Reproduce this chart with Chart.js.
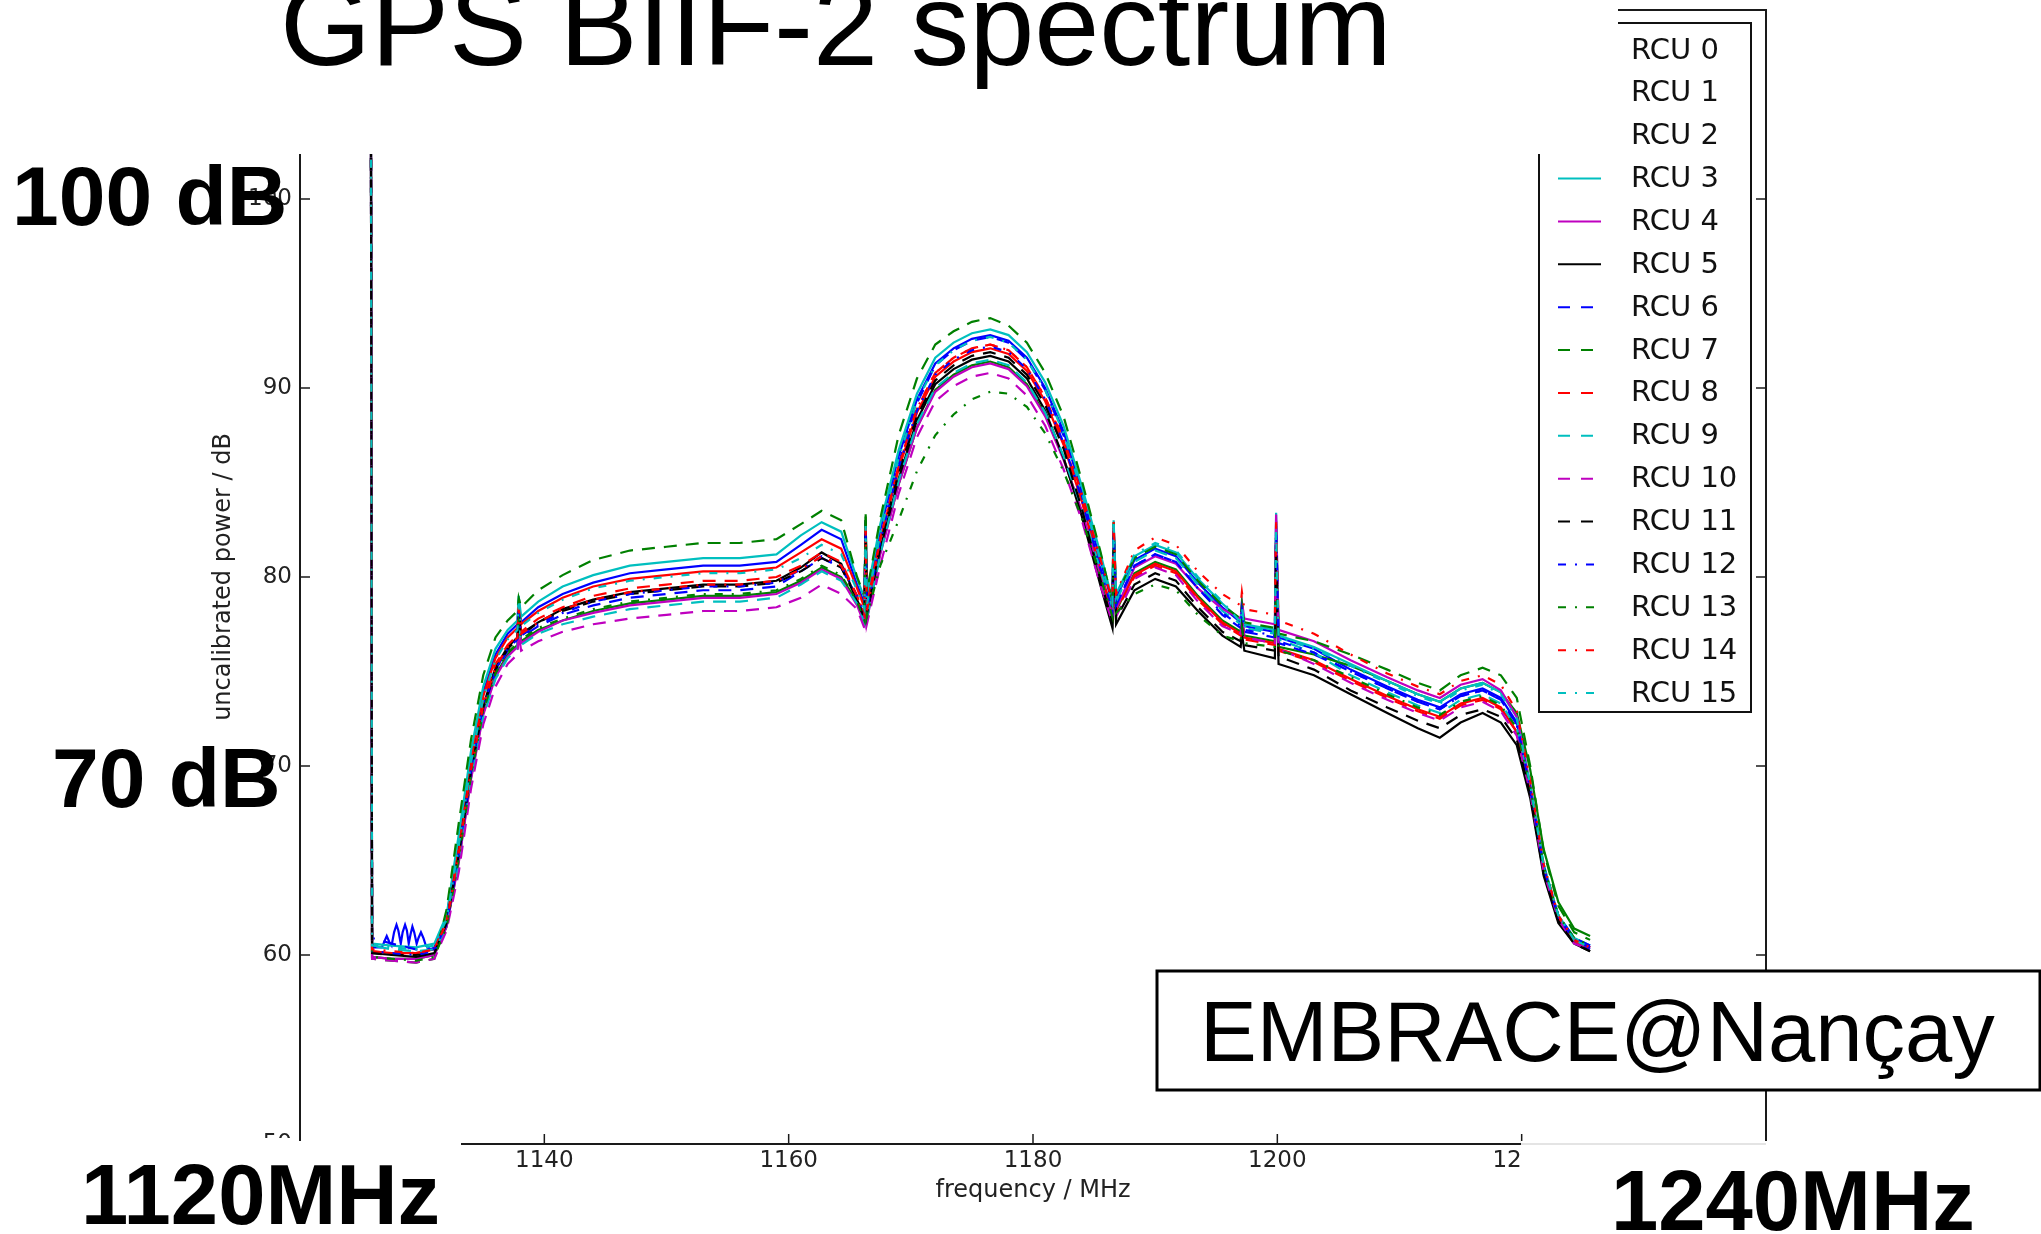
<!DOCTYPE html>
<html>
<head>
<meta charset="utf-8">
<script src="https://cdn.jsdelivr.net/npm/chart.js@4.4.1/dist/chart.umd.min.js"></script>
<style>
  html, body { margin: 0; padding: 0; background: #fff; }
  #wrap { width: 2041px; height: 1234px; position: relative; }
</style>
</head>
<body>
<div id="wrap"><canvas id="spectrumChart" width="2041" height="1234"></canvas></div>
<script>
// frequency / MHz, shared by all RCU traces
const freq = [1125.8, 1125.9, 1127.5, 1129.5, 1131.0, 1132.0, 1133.0, 1134.0, 1135.0, 1136.0,
  1137.0, 1137.8, 1137.9, 1138.1, 1139.5, 1141.5, 1144.0, 1147.0, 1150.0, 1153.0,
  1156.0, 1159.0, 1161.0, 1162.7, 1164.3, 1165.6, 1166.2, 1166.3, 1166.4, 1167.5,
  1169.0, 1170.5, 1172.0, 1173.5, 1175.0, 1176.5, 1178.0, 1179.5, 1181.0, 1182.5,
  1184.0, 1185.5, 1186.5, 1186.6, 1186.8, 1188.3, 1190.0, 1191.7, 1193.5, 1195.5,
  1197.0, 1197.1, 1197.3, 1199.8, 1199.9, 1200.1, 1203.0, 1206.0, 1209.0, 1211.5,
  1213.3, 1215.0, 1216.8, 1218.3, 1219.6, 1220.7, 1221.8, 1223.0, 1224.3, 1225.6];

// uncalibrated power / dB
const rcu0 = [108, 60.4, 60.4, 60.4, 60.4, 62.0, 66.1, 70.5, 73.9, 75.9,
  77.0, 77.5, 78.8, 77.6, 78.4, 79.1, 79.7, 80.2, 80.4, 80.6,
  80.6, 80.8, 81.7, 82.5, 82.0, 79.6, 78.6, 82.9, 78.8, 82.5,
  86.4, 89.4, 91.3, 92.1, 92.6, 92.8, 92.5, 91.6, 90.0, 87.7,
  84.5, 80.9, 78.6, 82.8, 78.9, 80.9, 81.5, 81.1, 79.7, 78.4,
  77.6, 78.3, 77.4, 77.1, 82.6, 76.8, 76.2, 75.1, 74.2, 73.5,
  73.1, 73.8, 74.1, 73.6, 72.3, 68.8, 64.5, 61.9, 60.7, 60.3];
const rcu1 = [108, 59.9, 59.8, 59.8, 60.0, 61.5, 65.0, 69.4, 72.8, 74.8,
  75.9, 76.4, 77.8, 76.6, 77.2, 77.7, 78.2, 78.6, 78.8, 79.0,
  79.0, 79.2, 79.8, 80.5, 80.0, 78.7, 77.7, 83.2, 77.9, 81.3,
  84.9, 87.9, 89.9, 90.7, 91.2, 91.4, 91.1, 90.2, 88.6, 86.3,
  83.4, 80.0, 77.9, 82.3, 78.2, 80.2, 80.8, 80.4, 79.0, 77.7,
  77.1, 77.9, 76.9, 76.6, 82.0, 76.3, 75.9, 75.3, 74.5, 73.8,
  73.4, 74.1, 74.4, 73.9, 72.8, 69.8, 65.6, 62.8, 61.4, 61.0];
const rcu2 = [108, 60.2, 60.1, 60.1, 60.3, 61.9, 65.9, 70.3, 73.7, 75.7,
  76.8, 77.3, 78.6, 77.5, 78.2, 78.9, 79.5, 79.9, 80.1, 80.3,
  80.3, 80.5, 81.3, 82.0, 81.5, 79.4, 78.4, 82.7, 78.6, 82.0,
  85.7, 88.7, 90.6, 91.4, 91.9, 92.1, 91.8, 90.9, 89.3, 87.0,
  84.0, 80.4, 78.1, 82.4, 78.3, 80.1, 80.7, 80.3, 78.9, 77.6,
  77.0, 77.8, 76.8, 76.5, 82.1, 76.2, 75.6, 74.6, 73.7, 73.0,
  72.6, 73.3, 73.6, 73.1, 71.8, 68.7, 64.5, 61.9, 60.7, 60.4];
const rcu3 = [108, 60.6, 60.5, 60.4, 60.6, 62.1, 66.4, 70.8, 74.2, 76.2,
  77.2, 77.7, 79.0, 77.9, 78.7, 79.5, 80.1, 80.6, 80.8, 81.0,
  81.0, 81.2, 82.2, 82.9, 82.4, 79.9, 78.9, 83.0, 79.1, 82.8,
  86.7, 89.7, 91.6, 92.4, 92.9, 93.1, 92.8, 91.9, 90.3, 88.0,
  84.8, 81.3, 78.8, 83.0, 79.1, 81.1, 81.7, 81.3, 79.9, 78.6,
  77.7, 78.5, 77.5, 77.2, 83.4, 76.9, 76.3, 75.4, 74.5, 73.8,
  73.4, 74.1, 74.4, 73.9, 72.6, 69.0, 64.8, 62.1, 60.9, 60.5];
const rcu4 = [108, 59.9, 59.8, 59.8, 60.0, 61.5, 64.9, 69.3, 72.7, 74.7,
  75.8, 76.3, 77.5, 76.5, 77.1, 77.7, 78.1, 78.5, 78.7, 78.9,
  78.9, 79.1, 79.7, 80.4, 79.9, 78.5, 77.5, 82.3, 77.7, 81.2,
  84.9, 87.9, 89.8, 90.6, 91.1, 91.3, 91.0, 90.1, 88.5, 86.2,
  83.5, 80.2, 78.0, 82.4, 78.3, 80.5, 81.1, 80.7, 79.4, 78.3,
  77.8, 78.7, 77.8, 77.5, 83.3, 77.2, 76.6, 75.6, 74.7, 74.0,
  73.6, 74.3, 74.6, 74.0, 72.6, 69.0, 64.6, 62.0, 60.8, 60.4];
const rcu5 = [108, 60.1, 60.0, 59.9, 60.1, 61.7, 65.4, 69.8, 73.2, 75.2,
  76.3, 76.8, 78.2, 77.0, 77.6, 78.3, 78.8, 79.2, 79.4, 79.6,
  79.6, 79.8, 80.5, 81.3, 80.7, 78.8, 77.8, 83.0, 78.0, 81.5,
  85.2, 88.3, 90.2, 91.0, 91.5, 91.7, 91.4, 90.5, 88.8, 86.3,
  83.2, 79.6, 77.3, 81.8, 77.5, 79.3, 79.9, 79.5, 78.2, 76.9,
  76.3, 77.0, 76.1, 75.7, 81.0, 75.4, 74.8, 73.8, 72.8, 72.0,
  71.5, 72.3, 72.8, 72.3, 71.1, 68.3, 64.2, 61.7, 60.6, 60.2];
const rcu6 = [108, 60.9, 60.6, 60.3, 60.3, 61.6, 65.2, 69.6, 73.0, 75.0,
  76.1, 76.6, 78.2, 76.8, 77.4, 78.0, 78.5, 78.9, 79.1, 79.3,
  79.3, 79.5, 80.3, 81.0, 80.5, 78.9, 77.9, 82.4, 78.1, 82.0,
  86.0, 89.2, 91.2, 92.0, 92.5, 92.7, 92.4, 91.5, 89.9, 87.5,
  84.3, 80.6, 78.2, 82.6, 78.5, 80.6, 81.2, 80.8, 79.4, 78.0,
  77.3, 78.1, 77.1, 76.8, 82.4, 76.5, 75.9, 75.0, 74.1, 73.4,
  73.0, 73.7, 74.0, 73.5, 72.2, 68.9, 64.7, 62.1, 60.9, 60.5];
const rcu7 = [108, 59.8, 59.7, 59.6, 59.8, 62.4, 67.0, 71.4, 74.8, 76.8,
  77.7, 78.2, 78.9, 78.4, 79.3, 80.1, 80.9, 81.4, 81.6, 81.8,
  81.8, 82.0, 82.8, 83.5, 83.0, 80.0, 79.0, 83.4, 79.2, 83.1,
  87.5, 90.5, 92.3, 93.0, 93.5, 93.7, 93.3, 92.4, 90.8, 88.5,
  85.1, 81.4, 78.7, 82.9, 79.0, 81.0, 81.6, 81.2, 79.8, 78.5,
  77.8, 78.6, 77.6, 77.3, 82.7, 77.0, 76.6, 75.9, 75.1, 74.4,
  74.0, 74.8, 75.2, 74.8, 73.6, 70.0, 65.5, 62.6, 61.2, 60.8];
const rcu8 = [108, 60.2, 60.1, 60.1, 60.3, 61.8, 65.6, 70.0, 73.4, 75.4,
  76.4, 76.9, 78.4, 77.1, 77.8, 78.4, 79.0, 79.4, 79.6, 79.8,
  79.8, 80.0, 80.6, 81.3, 80.8, 79.0, 78.0, 82.6, 78.2, 82.0,
  85.8, 88.9, 90.8, 91.6, 92.1, 92.3, 92.0, 91.1, 89.5, 87.2,
  84.1, 80.4, 78.0, 82.3, 78.2, 80.0, 80.6, 80.2, 78.8, 77.5,
  76.9, 77.7, 76.7, 76.4, 82.0, 76.1, 75.5, 74.5, 73.6, 72.9,
  72.5, 73.2, 73.5, 73.0, 71.8, 68.7, 64.6, 62.0, 60.8, 60.4];
const rcu9 = [108, 60.5, 60.3, 60.2, 60.3, 61.4, 64.8, 69.2, 72.6, 74.6,
  75.7, 76.2, 77.4, 76.4, 77.0, 77.5, 77.9, 78.3, 78.5, 78.7,
  78.7, 78.9, 79.6, 80.3, 79.8, 78.6, 77.6, 82.0, 77.8, 81.2,
  85.1, 88.1, 90.0, 90.8, 91.3, 91.5, 91.2, 90.3, 88.7, 86.4,
  83.6, 80.4, 78.4, 82.8, 78.7, 80.8, 81.4, 81.0, 79.6, 78.2,
  77.5, 78.3, 77.3, 77.0, 82.8, 76.7, 76.0, 74.8, 73.9, 73.2,
  72.8, 73.5, 73.8, 73.3, 72.0, 68.8, 64.6, 62.0, 60.8, 60.4];
const rcu10 = [108, 59.8, 59.7, 59.6, 59.8, 61.3, 64.4, 68.8, 72.2, 74.2,
  75.4, 75.9, 77.0, 76.1, 76.6, 77.1, 77.5, 77.8, 78.0, 78.2,
  78.2, 78.4, 78.9, 79.6, 79.1, 78.3, 77.3, 81.8, 77.5, 80.6,
  84.4, 87.4, 89.3, 90.1, 90.6, 90.8, 90.5, 89.6, 88.0, 85.7,
  83.0, 79.6, 77.6, 82.0, 77.9, 79.9, 80.5, 80.1, 78.7, 77.4,
  77.0, 77.8, 76.8, 76.5, 83.2, 76.2, 75.4, 74.4, 73.5, 72.8,
  72.4, 73.1, 73.4, 72.9, 71.6, 68.6, 64.4, 61.9, 60.6, 60.3];
const rcu11 = [108, 60.1, 60.0, 60.0, 60.1, 61.7, 65.3, 69.7, 73.1, 75.1,
  76.2, 76.7, 77.9, 76.9, 77.6, 78.2, 78.7, 79.1, 79.3, 79.5,
  79.5, 79.7, 80.3, 81.0, 80.5, 78.8, 77.8, 82.3, 78.0, 81.7,
  85.5, 88.5, 90.4, 91.2, 91.7, 91.9, 91.6, 90.7, 89.1, 86.8,
  83.6, 79.9, 77.6, 81.9, 77.8, 79.6, 80.2, 79.8, 78.4, 77.1,
  76.6, 77.4, 76.4, 76.1, 81.3, 75.8, 75.1, 74.0, 73.1, 72.4,
  72.0, 72.7, 73.0, 72.6, 71.4, 68.5, 64.3, 61.8, 60.6, 60.2];
const rcu12 = [108, 60.2, 60.1, 60.0, 60.2, 61.7, 65.4, 69.8, 73.2, 75.1,
  76.2, 76.7, 78.1, 76.9, 77.5, 78.1, 78.7, 79.1, 79.3, 79.5,
  79.5, 79.7, 80.4, 81.1, 80.6, 79.0, 78.0, 82.4, 78.2, 81.9,
  85.8, 88.8, 90.7, 91.5, 92.0, 92.2, 91.9, 91.0, 89.4, 87.1,
  84.1, 80.5, 78.2, 82.5, 78.5, 80.6, 81.2, 80.8, 79.4, 78.1,
  77.4, 78.2, 77.2, 76.9, 82.5, 76.6, 76.0, 75.0, 74.1, 73.4,
  73.0, 73.7, 74.0, 73.5, 72.2, 68.8, 64.6, 62.0, 60.8, 60.4];
const rcu13 = [108, 59.9, 59.8, 59.7, 59.9, 61.5, 65.1, 69.5, 72.9, 74.9,
  76.0, 76.5, 77.6, 76.7, 77.3, 77.8, 78.3, 78.7, 78.9, 79.1,
  79.1, 79.3, 79.9, 80.6, 80.1, 78.7, 77.7, 81.9, 77.9, 80.6,
  83.0, 85.6, 87.5, 88.6, 89.4, 89.8, 89.7, 89.0, 87.6, 85.6,
  83.1, 80.1, 77.9, 81.5, 78.1, 79.1, 79.6, 79.3, 78.0, 76.9,
  76.6, 77.3, 76.5, 76.3, 81.5, 76.1, 75.6, 74.7, 73.8, 73.1,
  72.7, 73.4, 73.7, 73.2, 72.0, 68.9, 64.7, 62.1, 60.9, 60.5];
const rcu14 = [108, 60.3, 60.2, 60.1, 60.3, 61.7, 65.4, 69.8, 73.2, 75.2,
  76.3, 76.8, 78.3, 77.0, 77.6, 78.3, 78.8, 79.2, 79.4, 79.6,
  79.6, 79.8, 80.4, 81.1, 80.6, 79.0, 78.0, 82.5, 78.2, 82.0,
  85.9, 88.9, 90.8, 91.6, 92.1, 92.3, 92.0, 91.1, 89.5, 87.3,
  84.4, 81.0, 78.7, 83.0, 79.1, 81.4, 82.1, 81.7, 80.3, 79.1,
  78.5, 79.2, 78.3, 78.0, 82.9, 77.7, 77.0, 75.9, 74.9, 74.2,
  73.8, 74.5, 74.8, 74.3, 72.9, 69.2, 64.8, 62.1, 60.8, 60.4];
const rcu15 = [108, 60.5, 60.4, 60.3, 60.5, 61.9, 65.8, 70.2, 73.6, 75.6,
  76.7, 77.2, 78.6, 77.4, 78.1, 78.8, 79.4, 79.8, 80.0, 80.2,
  80.2, 80.4, 81.0, 81.7, 81.2, 79.3, 78.3, 82.7, 78.5, 82.3,
  86.3, 89.3, 91.2, 92.0, 92.5, 92.7, 92.4, 91.5, 89.9, 87.6,
  84.5, 80.9, 78.6, 82.9, 78.9, 81.2, 81.8, 81.4, 80.0, 78.7,
  77.6, 78.4, 77.4, 77.1, 82.6, 76.8, 76.2, 75.3, 74.4, 73.7,
  73.3, 74.0, 74.3, 73.8, 72.5, 69.0, 64.7, 62.1, 60.8, 60.4];

// ripple on RCU 0 in the low band
const rippleFreq = [1126.3, 1126.7, 1126.9, 1127.1, 1127.3, 1127.5, 1127.7, 1127.9, 1128.05, 1128.25,
  1128.4, 1128.6, 1128.75, 1128.9, 1129.05, 1129.2, 1129.35, 1129.55, 1129.7, 1129.9,
  1130.1, 1130.3, 1130.7];
const rippleRcu0 = [60.4, 60.4, 60.7, 61.0, 60.7, 60.5, 61.2, 61.6, 61.3, 60.6,
  61.2, 61.6, 61.3, 60.6, 61.1, 61.5, 61.2, 60.6, 60.9, 61.2,
  60.9, 60.5, 60.3];

const xTicks = [1120, 1140, 1160, 1180, 1200, 1220, 1240];
const yTicks = [50, 60, 70, 80, 90, 100, 110];

const rcuNames = ['RCU 0', 'RCU 1', 'RCU 2', 'RCU 3', 'RCU 4', 'RCU 5', 'RCU 6', 'RCU 7',
  'RCU 8', 'RCU 9', 'RCU 10', 'RCU 11', 'RCU 12', 'RCU 13', 'RCU 14', 'RCU 15'];
const rcuSeries = [rcu0, rcu1, rcu2, rcu3, rcu4, rcu5, rcu6, rcu7,
  rcu8, rcu9, rcu10, rcu11, rcu12, rcu13, rcu14, rcu15];

// matplotlib classic cycle: b g r c m k, then -- and -.
const cycle = ['#0000ff', '#008000', '#ff0000', '#00bfbf', '#bf00bf', '#000000'];
const rcuColors = rcuNames.map((n, i) => cycle[i % 6]);
const rcuDashes = rcuNames.map((n, i) => i < 6 ? [] : (i < 12 ? [13, 9] : [8, 9, 2, 9]));
const legendDashes = rcuNames.map((n, i) => i < 6 ? [] : (i < 12 ? [12, 11] : [8, 9, 2, 9]));

const datasets = rcuSeries.map((vals, i) => {
    let pts = freq.map((f, j) => ({ x: f, y: vals[j] }));
    if (i === 0) {
        const lo = rippleFreq[0], hi = rippleFreq[rippleFreq.length - 1];
        pts = pts.filter(p => p.x < lo || p.x > hi)
            .concat(rippleFreq.map((f, j) => ({ x: f, y: rippleRcu0[j] })))
            .sort((a, b) => a.x - b.x);
    }
    return {
        label: rcuNames[i],
        data: pts,
        borderColor: rcuColors[i],
        borderDash: rcuDashes[i],
        borderWidth: 2.2,
        pointRadius: 0,
        tension: 0,
        fill: false,
        order: 15 - i
    };
});

function seg(ctx, x1, y1, x2, y2) {
    ctx.beginPath();
    ctx.moveTo(x1, y1);
    ctx.lineTo(x2, y2);
    ctx.stroke();
}

// frame, ticks, legend and the slide's pasted labels
const slideOverlay = {
    id: 'slideOverlay',
    afterDraw(chart) {
        const ctx = chart.ctx;
        const a = chart.chartArea;
        const xs = chart.scales.x, ys = chart.scales.y;
        ctx.save();

        // axes frame
        ctx.strokeStyle = '#1a1a1a';
        ctx.lineWidth = 2;
        ctx.setLineDash([]);
        ctx.strokeRect(a.left, a.top, a.right - a.left, a.bottom - a.top);

        // inward ticks
        ctx.lineWidth = 1.5;
        xTicks.forEach(v => {
            const x = xs.getPixelForValue(v);
            seg(ctx, x, a.bottom, x, a.bottom - 10);
            seg(ctx, x, a.top, x, a.top + 10);
        });
        yTicks.forEach(v => {
            const y = ys.getPixelForValue(v);
            seg(ctx, a.left, y, a.left + 10, y);
            seg(ctx, a.right, y, a.right - 10, y);
        });

        // tick labels
        ctx.fillStyle = '#222';
        ctx.font = '23px "DejaVu Sans"';
        ctx.textAlign = 'center';
        ctx.textBaseline = 'middle';
        xTicks.forEach(v => ctx.fillText(String(v), xs.getPixelForValue(v), a.bottom + 17));
        ctx.textAlign = 'right';
        yTicks.forEach(v => ctx.fillText(String(v), a.left - 8, ys.getPixelForValue(v)));

        // axis titles
        ctx.font = '24px "DejaVu Sans"';
        ctx.textAlign = 'center';
        ctx.fillText('frequency / MHz', (a.left + a.right) / 2, a.bottom + 47);
        ctx.save();
        ctx.translate(a.left - 76, (a.top + a.bottom) / 2);
        ctx.rotate(-Math.PI / 2);
        ctx.fillText('uncalibrated power / dB', 0, 0);
        ctx.restore();

        // legend
        const lw = 212, lh = 689;
        const lx = a.right - 15 - lw, ly = a.top + 13;
        ctx.fillStyle = '#fff';
        ctx.fillRect(lx, ly, lw, lh);
        ctx.strokeStyle = '#111';
        ctx.lineWidth = 2;
        ctx.strokeRect(lx, ly, lw, lh);
        ctx.font = '29px "DejaVu Sans"';
        ctx.textAlign = 'left';
        rcuNames.forEach((n, i) => {
            const y = ly + 27 + i * 42.87;
            ctx.strokeStyle = rcuColors[i];
            ctx.setLineDash(legendDashes[i]);
            ctx.lineWidth = 2;
            seg(ctx, lx + 19, y, lx + 62, y);
            ctx.setLineDash([]);
            ctx.fillStyle = '#111';
            ctx.fillText(n, lx + 92, y + 1);
        });

        // white patches of the slide
        ctx.fillStyle = '#fff';
        ctx.fillRect(0, 0, 1618, 154);
        ctx.fillRect(0, 1138, 299, 96);
        ctx.fillRect(299, 1141, 162, 93);
        ctx.fillRect(1521, 1141, 520, 93);
        ctx.strokeStyle = '#e4e4e4';
        ctx.lineWidth = 2;
        seg(ctx, 1521, a.bottom, a.right, a.bottom);

        // pasted slide labels
        ctx.fillStyle = '#000';
        ctx.textBaseline = 'alphabetic';
        ctx.textAlign = 'left';
        ctx.font = '117px "Liberation Sans"';
        ctx.fillText('GPS BIIF-2 spectrum', 280, 65);
        ctx.font = 'bold 84px "Liberation Sans"';
        ctx.fillText('100 dB', 12, 225);
        ctx.fillText('70 dB', 52, 807);
        ctx.font = 'bold 85px "Liberation Sans"';
        ctx.fillText('1120MHz', 81, 1224);
        ctx.fillText('1240MHz', 1611, 1230);

        ctx.fillStyle = '#fff';
        ctx.fillRect(1157, 971, 883, 119);
        ctx.strokeStyle = '#000';
        ctx.lineWidth = 3;
        ctx.strokeRect(1157, 971, 883, 119);
        ctx.fillStyle = '#000';
        ctx.font = '85px "Liberation Sans"';
        ctx.fillText('EMBRACE@Nançay', 1200, 1061);

        ctx.restore();
    }
};

const ctx = document.getElementById('spectrumChart').getContext('2d');
new Chart(ctx, {
    type: 'line',
    data: { datasets: datasets },
    options: {
        responsive: false,
        animation: false,
        devicePixelRatio: 1,
        layout: { padding: { top: 10, right: 275, left: 0, bottom: 0 } },
        plugins: { legend: { display: false }, tooltip: { enabled: false } },
        scales: {
            x: {
                type: 'linear',
                min: 1120,
                max: 1240,
                ticks: { display: false, stepSize: 20 },
                grid: { display: false },
                border: { display: false },
                afterFit: s => { s.height = 90; }
            },
            y: {
                min: 50,
                max: 110,
                ticks: { display: false, stepSize: 10 },
                grid: { display: false },
                border: { display: false },
                afterFit: s => { s.width = 300; }
            }
        }
    },
    plugins: [slideOverlay]
});
</script>
</body>
</html>
